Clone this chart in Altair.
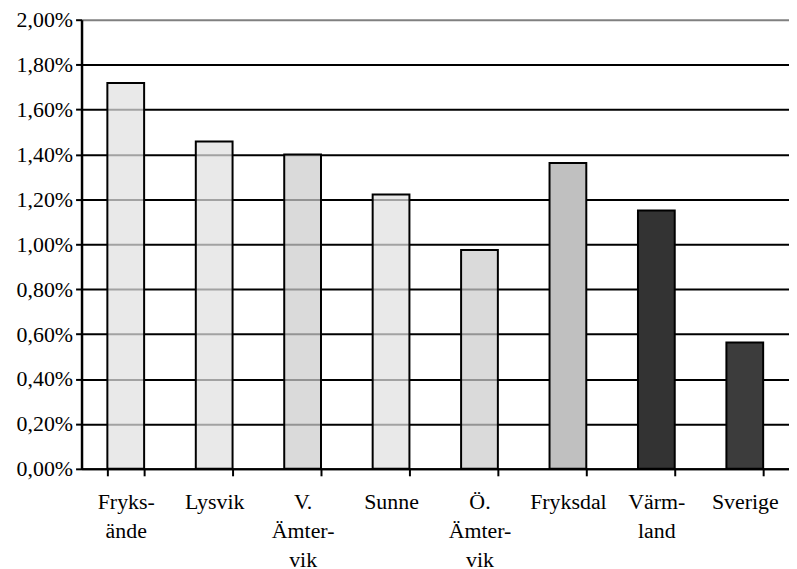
import altair as alt
import pandas as pd

categories = ["Fryks-\nände", "Lysvik", "V.\nÄmter-\nvik", "Sunne", "Ö.\nÄmter-\nvik",
              "Fryksdal", "Värm-\nland", "Sverige"]
values = [0.01718, 0.01458, 0.01400, 0.01222, 0.00975, 0.01362, 0.01150, 0.00563]
fills = ["#e0e0e0", "#e0e0e0", "#cccccc", "#e0e0e0", "#cccccc", "#c0c0c0", "#333333", "#3c3c3c"]
opac = [0.72, 0.72, 0.72, 0.72, 0.72, 1.0, 1.0, 1.0]

df = pd.DataFrame({"cat": categories, "val": values, "fill": fills, "op": opac})

FONT = "'Times New Roman', 'Liberation Serif', 'DejaVu Serif', serif"

chart = alt.Chart(df).mark_bar(stroke="black", strokeWidth=2, size=37).encode(
    x=alt.X("cat:N", sort=None, title=None,
            scale=alt.Scale(paddingInner=0.58, paddingOuter=0.29),
            axis=alt.Axis(labelAngle=0,
                          labelExpr="datum.value ? split(datum.value, '\\n') : ''",
                          tickBand="extent", tickSize=7, tickWidth=2, tickColor="black",
                          domainColor="black", domainWidth=2,
                          labelFont=FONT, labelFontSize=22, labelColor="black",
                          labelLineHeight=29, labelPadding=16, labelBaseline="top")),
    y=alt.Y("val:Q", title=None,
            scale=alt.Scale(domain=[0, 0.02], nice=False),
            axis=alt.Axis(values=[0, 0.002, 0.004, 0.006, 0.008, 0.01, 0.012, 0.014, 0.016, 0.018, 0.02],
                          labelExpr="replace(format(datum.value, '.2%'), '.', ',')",
                          grid=True,
                          gridColor={"condition": {"test": "datum.value >= 0.02", "value": "#808080"}, "value": "black"},
                          gridWidth=2, gridOpacity=1,
                          tickSize=6, tickWidth=2, tickColor="black",
                          domainColor="black", domainWidth=2.5,
                          labelFont=FONT, labelFontSize=22, labelColor="black", labelPadding=3)),
    fill=alt.Fill("fill:N", scale=None),
    fillOpacity=alt.FillOpacity("op:Q", scale=None),
).properties(
    width=712, height=452,
    autosize=alt.AutoSizeParams(type="none"),
    padding={"left": 74, "top": 10, "right": 0, "bottom": 100},
).configure_view(stroke=None)

chart.save("out.html", embed_options={"renderer": "svg", "actions": False})
